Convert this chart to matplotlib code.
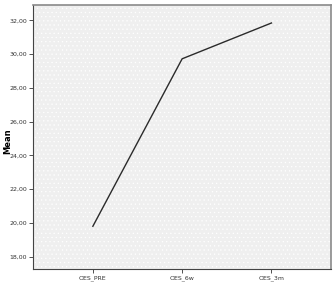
import matplotlib
matplotlib.use('Agg')
import matplotlib.pyplot as plt
from matplotlib.patches import Rectangle

categorias = ['OES_PRE', 'OES_6w', 'OES_3m']
medias = [19.80, 29.72, 31.84]
ticks_y = [18, 20, 22, 24, 26, 28, 30, 32]

plt.rcParams['hatch.linewidth'] = 0.4

fig = plt.figure(figsize=(3.35, 2.83), dpi=100)
ax = fig.add_axes([0.0995, 0.0495, 0.8885, 0.9325])
ax.set_facecolor('#efefef')
# textura pontilhada
ax.add_patch(Rectangle((0, 0), 1, 1, transform=ax.transAxes, facecolor='none',
                       edgecolor='white', hatch='....', linewidth=0, zorder=0))
x = list(range(len(categorias)))
ax.plot(x, medias, color='#2b2b2b', linewidth=1.0, zorder=3)

ax.set_xlim(-2/3, 2 + 2/3)
ax.set_ylim(17.27, 32.9)
ax.set_xticks(x)
ax.set_xticklabels(categorias)
ax.set_yticks(ticks_y)
ax.set_yticklabels([('%.2f' % v).replace('.', ',') for v in ticks_y])
ax.tick_params(labelsize=4.5, colors='#333333', length=3, width=0.6, pad=1.5)
fig.text(0.024, 0.5, 'Mean', rotation=90, fontsize=6, fontweight='bold',
         ha='center', va='center')

for lado in ['left', 'bottom']:
    ax.spines[lado].set_color('#444444')
    ax.spines[lado].set_linewidth(0.8)
for lado in ['top', 'right']:
    ax.spines[lado].set_color('#8a8a8a')
    ax.spines[lado].set_linewidth(1.2)

plt.savefig('out.png', dpi=100)
